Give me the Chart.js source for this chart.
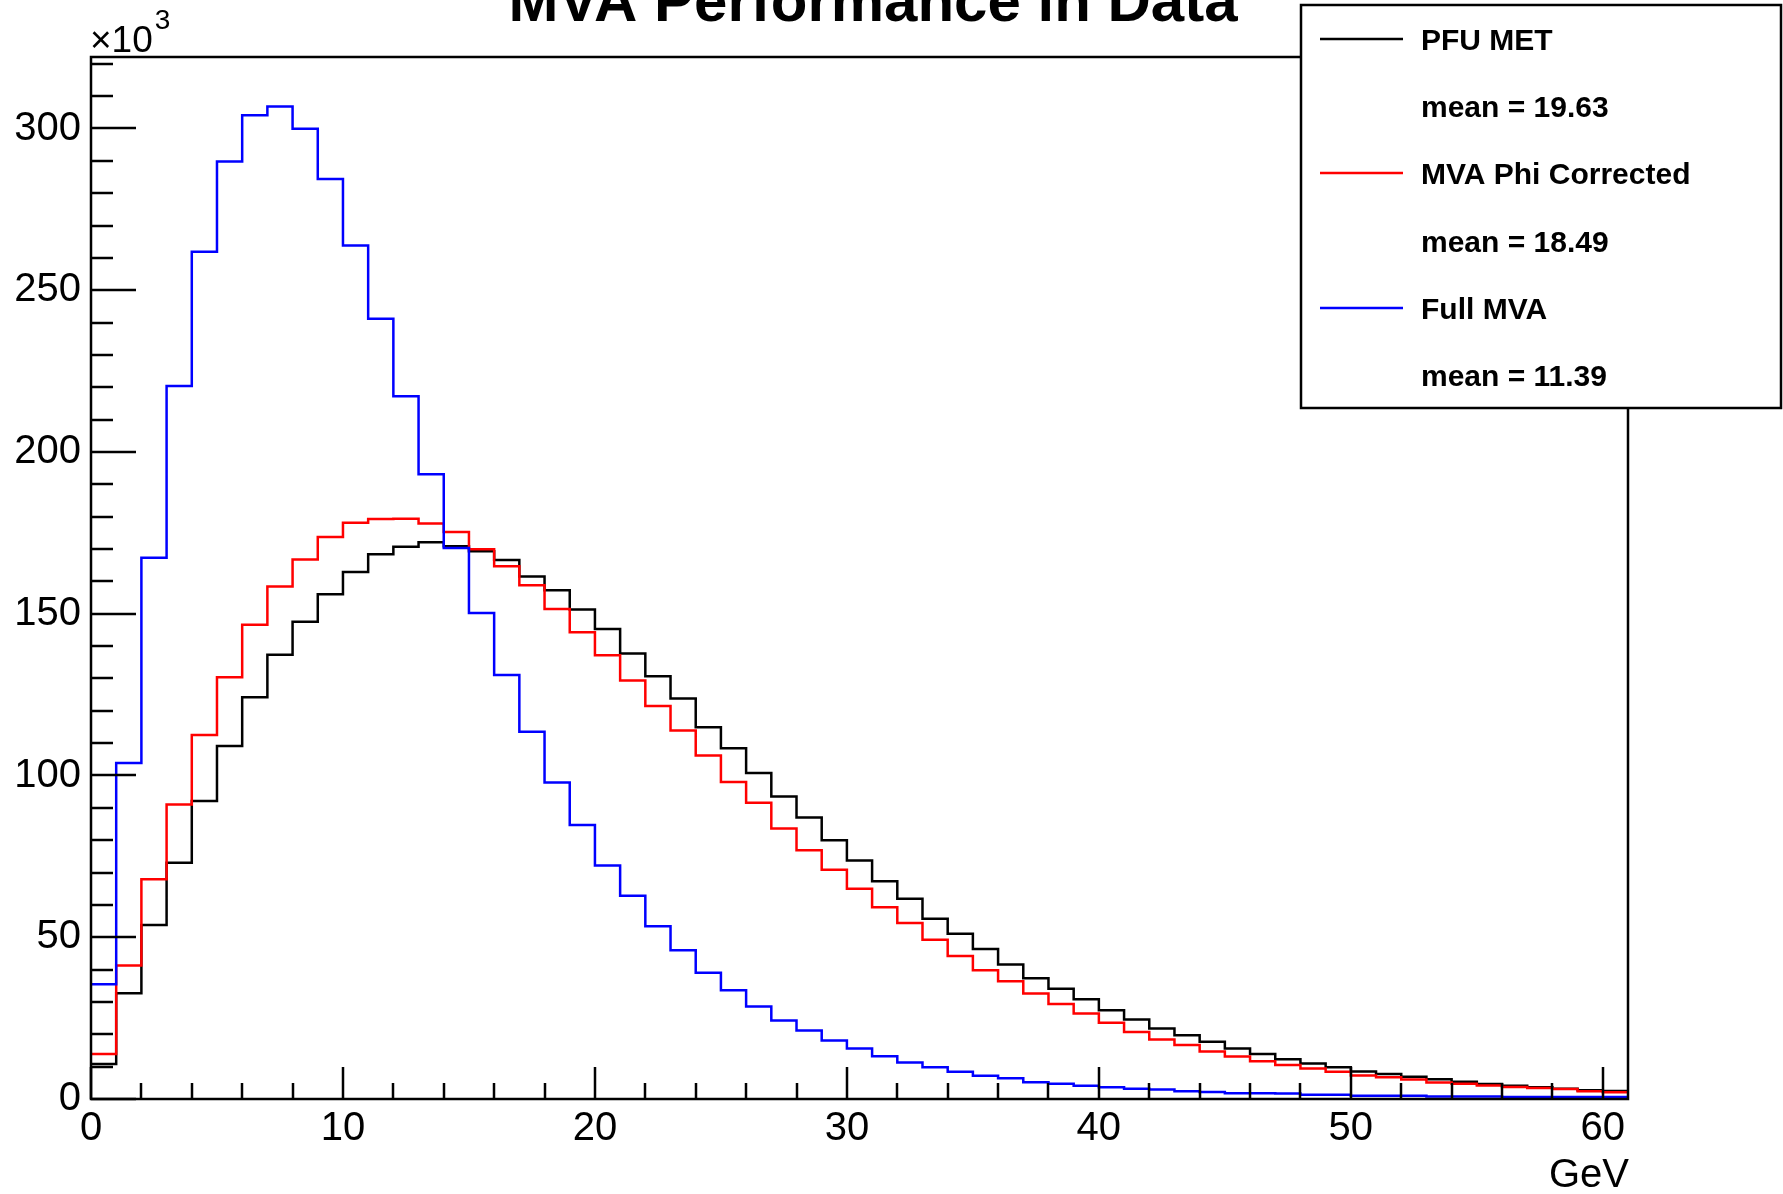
<!DOCTYPE html>
<html>
<head>
<meta charset="utf-8">
<title>MVA Performance in Data</title>
<script src="https://cdn.jsdelivr.net/npm/chart.js@4.4.1/dist/chart.umd.min.js"></script>
<style>
    html, body { margin: 0; padding: 0; background: #fff; }
    canvas { display: block; }
</style>
</head>
<body>
<canvas id="metChart" width="1783" height="1194"></canvas>
<script>
// bin lower edges in GeV (1 GeV wide bins, last one ends at 61)
const binLow = [
    0, 1, 2, 3, 4, 5, 6, 7, 8, 9, 10, 11, 12, 13, 14, 15, 16, 17, 18, 19,
    20, 21, 22, 23, 24, 25, 26, 27, 28, 29, 30, 31, 32, 33, 34, 35, 36, 37, 38, 39,
    40, 41, 42, 43, 44, 45, 46, 47, 48, 49, 50, 51, 52, 53, 54, 55, 56, 57, 58, 59, 60
];
const binHigh = 61;

// entries per bin, in units of 10^3
const pfuMet = [
    10.8, 32.7, 53.8, 73.0, 92.1, 109.1, 124.2, 137.3, 147.5, 156.0,
    162.9, 168.4, 170.7, 172.1, 170.9, 169.3, 166.6, 161.5, 157.3, 151.3,
    145.3, 137.7, 130.7, 123.8, 114.9, 108.4, 100.8, 93.5, 87.0, 80.0,
    73.7, 67.3, 61.9, 55.7, 51.1, 46.4, 41.6, 37.3, 34.1, 30.8,
    27.4, 24.6, 21.8, 19.7, 17.7, 15.6, 13.9, 12.3, 11.0, 9.8,
    8.5, 7.7, 6.9, 6.1, 5.3, 4.6, 4.1, 3.6, 3.2, 2.7, 2.5
];
const mvaPhiCorrected = [
    13.9, 41.3, 67.9, 91.0, 112.5, 130.4, 146.6, 158.4, 166.8, 173.7,
    178.1, 179.3, 179.4, 177.9, 175.3, 169.9, 164.7, 158.8, 151.5, 144.3,
    137.2, 129.4, 121.5, 113.9, 106.2, 98.0, 91.6, 83.6, 76.9, 70.9,
    65.0, 59.3, 54.4, 49.2, 44.2, 39.8, 36.4, 32.6, 29.4, 26.4,
    23.6, 20.7, 18.4, 16.7, 14.7, 13.1, 11.7, 10.5, 9.4, 8.4,
    7.3, 6.7, 6.0, 5.1, 4.7, 4.2, 3.7, 3.4, 3.1, 2.4, 2.1
];
const fullMva = [
    35.5, 103.9, 167.3, 220.4, 261.9, 289.8, 304.1, 306.8, 299.9, 284.4,
    263.8, 241.2, 217.2, 193.1, 170.3, 150.2, 131.1, 113.5, 97.8, 84.7,
    72.2, 62.8, 53.4, 46.0, 39.0, 33.6, 28.6, 24.3, 21.2, 18.1,
    15.6, 13.2, 11.3, 9.8, 8.4, 7.2, 6.4, 5.2, 4.7, 4.1,
    3.6, 3.2, 2.9, 2.4, 2.2, 1.8, 1.8, 1.7, 1.3, 1.3,
    1.0, 1.0, 1.0, 0.8, 0.8, 0.8, 0.6, 0.6, 0.6, 0.6, 0.6
];

const seriesNames = ['PFU MET', 'MVA Phi Corrected', 'Full MVA'];
const seriesMeans = ['19.63', '18.49', '11.39'];
const seriesColors = ['#000000', '#ff0000', '#0000ff'];

const yTicks = [0, 50, 100, 150, 200, 250, 300];
const xTicks = [0, 10, 20, 30, 40, 50, 60];
const yMax = 322.1;

const FONT = '"Liberation Sans", Arial, Helvetica, sans-serif';
const LINE_W = 2.5;

// histogram outline: one point per bin edge, value held until the next edge
const toSteps = (values) => {
    const pts = binLow.map((x, i) => ({ x: x, y: values[i] }));
    pts.push({ x: binHigh, y: values[values.length - 1] });
    return pts;
};

const histDataset = (label, values, color, order) => ({
    label: label,
    data: toSteps(values),
    borderColor: color,
    borderWidth: LINE_W,
    stepped: true,
    pointRadius: 0,
    fill: false,
    tension: 0,
    borderJoinStyle: 'miter',
    borderCapStyle: 'butt',
    order: order
});

// frame, inward ROOT-style ticks, title, axis decorations and legend box
const rootDecor = {
    id: 'rootDecor',
    afterDraw(chart) {
        const ctx = chart.ctx;
        const area = chart.chartArea;
        const xs = chart.scales.x;
        const ys = chart.scales.y;

        ctx.save();
        ctx.strokeStyle = '#000';
        ctx.lineWidth = LINE_W;
        ctx.lineCap = 'butt';

        ctx.strokeRect(area.left, area.top, area.right - area.left, area.bottom - area.top);

        ctx.beginPath();
        for (let v = 0; v <= yMax; v += 10) {
            const py = Math.round(ys.getPixelForValue(v));
            const len = v % 50 === 0 ? 45 : 22;
            ctx.moveTo(area.left, py);
            ctx.lineTo(area.left + len, py);
        }
        for (let v = 0; v <= 60; v += 2) {
            const px = Math.round(xs.getPixelForValue(v));
            const len = v % 10 === 0 ? 32 : 16;
            ctx.moveTo(px, area.bottom);
            ctx.lineTo(px, area.bottom - len);
        }
        ctx.stroke();

        ctx.fillStyle = '#000';
        ctx.textBaseline = 'alphabetic';

        ctx.font = 'bold 60px ' + FONT;
        ctx.textAlign = 'center';
        ctx.fillText('MVA Performance in Data', 873, 21);

        // axis multiplier above the y axis
        ctx.font = '37px ' + FONT;
        ctx.textAlign = 'left';
        ctx.fillText('\u00d710', area.left - 1, 52);
        const baseW = ctx.measureText('\u00d710').width;
        ctx.font = '28px ' + FONT;
        ctx.fillText('3', area.left - 1 + baseW + 2, 29);

        ctx.font = '40px ' + FONT;
        ctx.textAlign = 'right';
        ctx.fillText('GeV', area.right + 1, 1187);

        // legend
        const box = { l: 1301, t: 5, r: 1781, b: 408 };
        ctx.fillStyle = '#fff';
        ctx.fillRect(box.l, box.t, box.r - box.l, box.b - box.t);
        ctx.strokeStyle = '#000';
        ctx.lineWidth = LINE_W;
        ctx.strokeRect(box.l, box.t, box.r - box.l, box.b - box.t);

        const rowStep = 67.2;
        ctx.font = 'bold 30px ' + FONT;
        ctx.textAlign = 'left';
        seriesNames.forEach((name, i) => {
            const yName = 39 + rowStep * 2 * i;
            const yMean = yName + rowStep;
            ctx.strokeStyle = seriesColors[i];
            ctx.beginPath();
            ctx.moveTo(1320, Math.round(yName));
            ctx.lineTo(1403, Math.round(yName));
            ctx.stroke();
            ctx.fillStyle = '#000';
            ctx.fillText(name, 1421, yName + 11);
            ctx.fillText('mean = ' + seriesMeans[i], 1421, yMean + 11);
        });

        ctx.restore();
    }
};

new Chart(document.getElementById('metChart'), {
    type: 'line',
    data: {
        datasets: [
            histDataset(seriesNames[0], pfuMet, seriesColors[0], 2),
            histDataset(seriesNames[1], mvaPhiCorrected, seriesColors[1], 1),
            histDataset(seriesNames[2], fullMva, seriesColors[2], 0)
        ]
    },
    options: {
        responsive: false,
        devicePixelRatio: 1,
        animation: false,
        layout: { padding: { top: 57, right: 155, left: 0, bottom: 0 } },
        plugins: {
            legend: { display: false },
            title: { display: false },
            tooltip: { enabled: false }
        },
        scales: {
            x: {
                type: 'linear',
                min: 0,
                max: binHigh,
                afterFit: (scale) => { scale.height = 95; },
                afterBuildTicks: (scale) => { scale.ticks = xTicks.map(v => ({ value: v })); },
                grid: { display: false, drawTicks: false },
                border: { display: false },
                ticks: {
                    color: '#000',
                    font: { family: FONT, size: 40 },
                    padding: 6,
                    maxRotation: 0,
                    autoSkip: false
                }
            },
            y: {
                type: 'linear',
                min: 0,
                max: yMax,
                afterFit: (scale) => { scale.width = 91; },
                afterBuildTicks: (scale) => { scale.ticks = yTicks.map(v => ({ value: v })); },
                grid: { display: false, drawTicks: false },
                border: { display: false },
                ticks: {
                    color: '#000',
                    font: { family: FONT, size: 40 },
                    padding: 10,
                    autoSkip: false
                }
            }
        }
    },
    plugins: [rootDecor]
});
</script>
</body>
</html>
